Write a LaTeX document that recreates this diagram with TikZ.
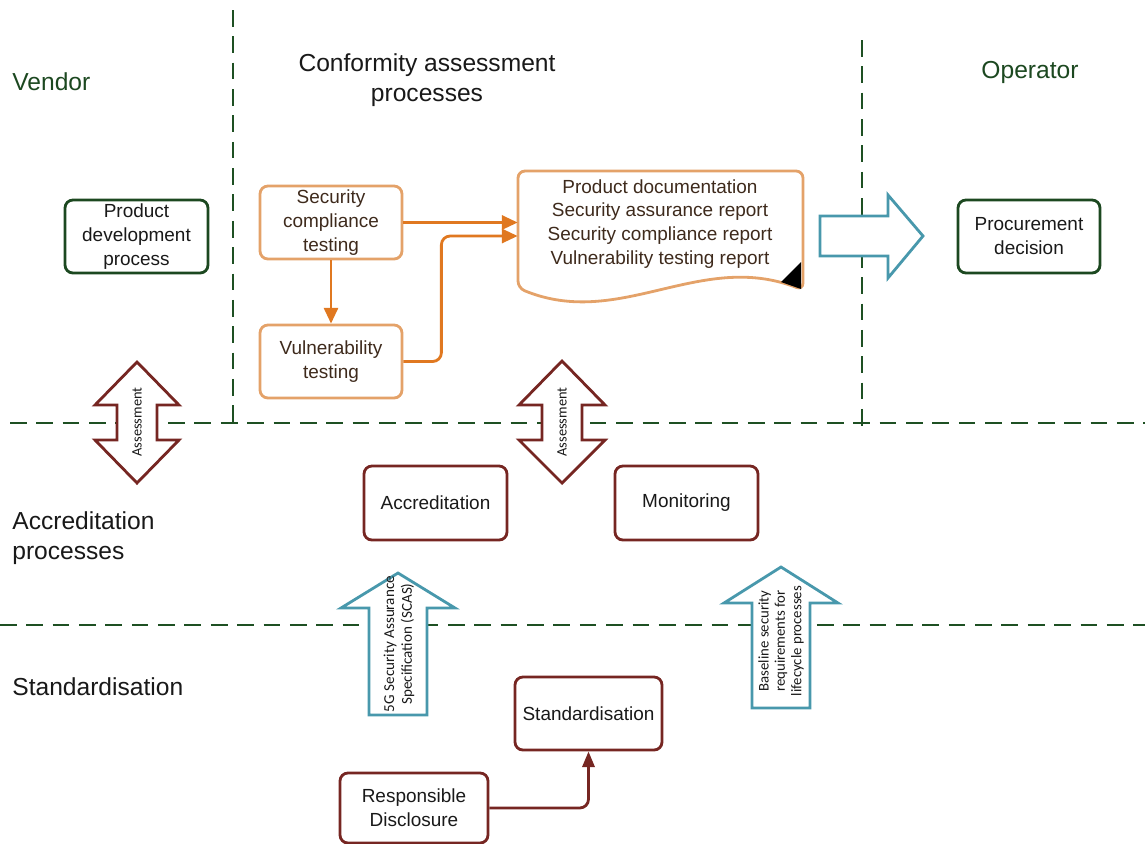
\documentclass[tikz,border=0pt]{standalone}
\usepackage{fontspec}
\setmainfont{Liberation Sans}
\newfontfamily\carl{Carlito}
\usetikzlibrary{arrows.meta,calc}
\definecolor{dgreen}{RGB}{28,72,32}
\definecolor{dashgreen}{RGB}{30,80,35}
\definecolor{obox}{RGB}{228,162,105}
\definecolor{oarr}{RGB}{224,120,32}
\definecolor{otext}{RGB}{62,42,28}
\definecolor{maroon}{RGB}{118,38,34}
\definecolor{teal}{RGB}{72,152,172}
\definecolor{txt}{RGB}{25,25,25}
\begin{document}
\begin{tikzpicture}[x=0.02cm,y=-0.02cm,
 sep/.style={draw=dashgreen,line width=1.2pt,dash pattern=on 9.5pt off 5.5pt},
 hdr/.style={font=\fontsize{14}{17}\selectfont,text=txt,align=left,inner sep=0pt},
 box/.style={draw,line width=1.6pt,rounded corners=4.5pt,align=center,font=\fontsize{10.8}{13.6}\selectfont,inner sep=1pt,minimum width=2.86cm,minimum height=1.46cm},
 gbox/.style={box,draw=dgreen,text=txt},
 obx/.style={box,draw=obox,text=otext},
 mbox/.style={box,draw=maroon,text=txt},
 oarrow/.style={draw=oarr,line width=1.6pt,-{Triangle[length=9pt,width=8pt]}},
 marrow/.style={draw=maroon,line width=1.6pt,-{Triangle[length=9pt,width=7pt]}},
 bigarrow/.style={draw=teal,line width=1.6pt,fill=white,line join=miter},
 dblarrow/.style={draw=maroon,line width=1.6pt,fill=white,line join=miter},
 rot/.style={rotate=90,align=center,text=txt,inner sep=0pt}
]
\useasboundingbox (0,0) rectangle (1145,843);

% separators
\draw[sep] (233,10) -- (233,428);
\draw[sep] (862,40) -- (862,432);
\draw[sep] (10,423) -- (1145,423);
\draw[sep] (0,625) -- (1145,625);

% headers
\node[hdr,text=dgreen,anchor=west] (hvendor) at (12,82) {Vendor};
\node[hdr,align=center,anchor=center] (hconf) at (427,80) {Conformity assessment\\processes};
\node[hdr,text=dgreen,anchor=center] (hop) at (1030,72) {Operator};
\node[hdr,anchor=west] (hacc) at (12,538) {Accreditation\\processes};
\node[hdr,anchor=west] (hstd) at (12,687) {Standardisation};

% boxes
\node[gbox] (pdp) at (136.5,236.5) {Product\\development\\process};
\node[obx,minimum width=2.84cm] (sct) at (331,222.5) {Security\\compliance\\testing};
\node[obx,minimum width=2.84cm] (vt) at (331,361.5) {Vulnerability\\testing};
\node[gbox,minimum width=2.84cm] (pd) at (1029,236.5) {Procurement\\decision};
\node[mbox,minimum height=1.48cm] (acc) at (435.5,503) {Accreditation};
\node[mbox,minimum height=1.48cm] (mon) at (686.5,503) {Monitoring};
\node[mbox,minimum width=2.94cm] (std) at (588.5,713.5) {Standardisation};
\node[mbox,minimum width=2.96cm,minimum height=1.4cm] (rd) at (414,808) {Responsible\\Disclosure};

% document shape
\draw[draw=obox,line width=1.6pt,rounded corners=4pt] (803,290) .. controls (700,250) and (620,330) .. (518,288) -- (518,171) -- (803,171) -- cycle;
\fill[black] (801,262) -- (801,289) -- (781,282) -- cycle;
\node[minimum width=5.7cm,minimum height=2.38cm,inner sep=0pt] (doc) at (660.5,230.5) {};
\node[align=center,font=\fontsize{10.8}{13.6}\selectfont,text=otext,inner sep=0pt] (doctext) at (660,224) {Product documentation\\Security assurance report\\Security compliance report\\Vulnerability testing report};

% orange connectors
\draw[oarrow] (sct.east) -- (sct.east -| doc.west);
\draw[oarrow,rounded corners=5pt] (vt.east) -- ++(38,0) |- ($(doc.west)+(0,5.5)$);
\draw[oarrow] (sct.south) -- (vt.north);

% big right arrow
\draw[bigarrow] (820,216) -- (888,216) -- (888,195) -- (923,236) -- (888,278) -- (888,256) -- (820,256) -- cycle;

% assessment double arrows
\draw[dblarrow] (137,362) -- (179,405) -- (157,405) -- (157,440) -- (179,440) -- (137,483) -- (95,440) -- (117,440) -- (117,405) -- (95,405) -- cycle;
\node[rot,font=\carl\fontsize{8.2}{10}\selectfont] (as1) at (137,422) {Assessment};
\draw[dblarrow] (562,361) -- (605,405) -- (582,405) -- (582,440) -- (605,440) -- (562,483) -- (519,440) -- (542,440) -- (542,405) -- (519,405) -- cycle;
\node[rot,font=\carl\fontsize{8.2}{10}\selectfont] (as2) at (562,422) {Assessment};

% blue up arrows
\draw[bigarrow] (398,573) -- (455,608) -- (427,608) -- (427,715) -- (369,715) -- (369,608) -- (341,608) -- cycle;
\node[rot,font=\carl\fontsize{8.6}{10.2}\selectfont] (scas) at (399,644) {5G Security Assurance\\Specification (SCAS)};
\draw[bigarrow] (781,567) -- (838,603) -- (810,603) -- (810,708) -- (752,708) -- (752,603) -- (724,603) -- cycle;
\node[rot,font=\carl\fontsize{8.4}{9.3}\selectfont] (base) at (781,641) {Baseline security\\requirements for\\lifecycle processes};

% maroon connector
\draw[marrow,rounded corners=5pt] (rd.east) -| (std.south);
\end{tikzpicture}
\end{document}
